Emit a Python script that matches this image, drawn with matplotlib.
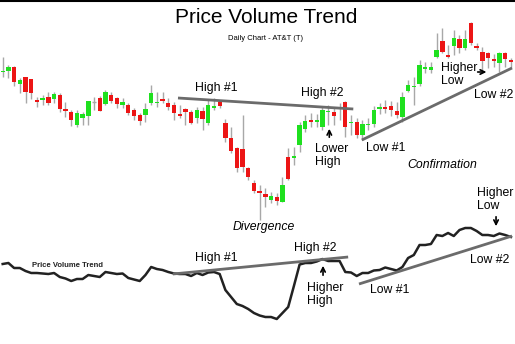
import numpy as np
import matplotlib
matplotlib.use('Agg')
import matplotlib.pyplot as plt

plt.rcParams['font.family'] = ['Liberation Sans', 'DejaVu Sans']

# daily candles, AT&T (T)
opens = [37.8, 37.9, 38.3, 36.6, 37.3, 37.1, 35.0, 35.0, 35.3, 35.1,
         35.5, 34.1, 33.8, 32.5, 33.2, 33.4, 34.8, 35.2, 34.6, 35.5,
         35.2, 34.5, 34.5, 34.0, 33.5, 33.5, 34.7, 34.7, 35.1, 34.7,
         34.5, 33.6, 34.1, 33.8, 33.2, 33.9, 32.7, 34.2, 34.8, 32.7,
         31.2, 30.2, 30.1, 28.2, 26.7, 25.9, 25.6, 25.0, 25.3, 24.8,
         29.3, 29.2, 30.5, 32.1, 33.0, 32.8, 32.3, 33.8, 33.8, 34.2,
         34.8, 32.7, 32.8, 31.5, 32.5, 32.6, 34.1, 34.3, 34.4, 33.9,
         33.3, 35.9, 36.3, 36.6, 38.1, 38.0, 39.3, 40.9, 39.5, 40.4,
         41.1, 40.2, 42.7, 40.4, 39.8, 39.7, 39.1, 38.7, 39.7, 39.0]
highs = [39.3, 38.5, 38.4, 37.2, 37.3, 37.1, 35.3, 35.5, 35.8, 35.8,
         35.7, 34.8, 34.0, 34.0, 33.8, 34.9, 35.3, 35.4, 36.0, 35.8,
         35.3, 35.2, 34.7, 34.2, 33.7, 34.7, 36.5, 35.8, 35.8, 35.2,
         34.8, 34.5, 34.2, 34.0, 34.3, 34.3, 35.0, 35.2, 35.0, 33.1,
         32.3, 30.3, 33.5, 28.3, 27.0, 26.5, 26.2, 25.8, 25.7, 27.3,
         30.2, 30.3, 32.8, 33.5, 33.7, 33.6, 34.3, 34.5, 34.2, 34.7,
         34.9, 33.5, 33.2, 33.0, 33.2, 34.4, 34.7, 35.0, 34.9, 34.8,
         35.8, 37.0, 37.3, 39.0, 38.8, 38.8, 41.7, 42.2, 40.5, 42.0,
         41.5, 42.0, 42.8, 40.7, 40.3, 39.8, 39.6, 39.8, 39.8, 39.2]
lows = [37.3, 37.2, 36.4, 35.7, 34.7, 35.1, 34.3, 34.5, 34.5, 34.7,
        33.8, 33.3, 32.4, 32.3, 32.5, 32.5, 34.0, 33.9, 34.5, 34.7,
        34.2, 34.2, 33.5, 33.0, 32.5, 32.8, 34.5, 34.3, 34.7, 34.0,
        33.0, 33.2, 32.5, 32.6, 32.7, 32.0, 32.5, 34.0, 34.2, 30.8,
        29.7, 27.8, 27.8, 27.0, 25.7, 23.0, 24.3, 24.7, 24.5, 24.8,
        27.0, 28.5, 29.8, 31.8, 32.3, 32.3, 32.0, 32.5, 32.5, 33.0,
        31.3, 31.5, 31.2, 31.0, 32.0, 32.3, 33.6, 33.7, 33.4, 33.2,
        32.8, 35.8, 34.5, 36.4, 37.7, 37.7, 39.2, 39.7, 39.2, 39.5,
        39.7, 40.0, 40.5, 40.0, 38.0, 38.2, 38.3, 37.8, 38.3, 38.2]
closes = [37.9, 38.3, 36.8, 37.0, 35.8, 35.7, 34.8, 35.2, 34.7, 35.6,
          34.1, 33.9, 33.0, 33.7, 33.6, 34.9, 34.8, 33.9, 35.8, 34.9,
          34.6, 34.8, 33.7, 33.4, 32.9, 34.1, 35.7, 34.8, 34.9, 34.3,
          33.7, 33.4, 33.8, 32.7, 34.0, 33.1, 34.5, 34.4, 34.4, 31.2,
          29.9, 28.2, 28.3, 27.3, 25.9, 25.7, 25.3, 25.4, 24.9, 26.5,
          27.1, 29.4, 32.5, 32.9, 32.8, 33.0, 34.0, 33.9, 33.4, 34.3,
          32.3, 32.8, 31.5, 32.6, 32.6, 34.0, 34.3, 34.1, 34.0, 33.5,
          35.3, 36.5, 36.4, 38.5, 38.3, 38.3, 40.0, 39.8, 39.3, 41.2,
          40.2, 41.1, 40.7, 40.2, 38.9, 39.2, 38.9, 39.7, 39.1, 38.8]

# price volume trend, one value per day
pvt = [66, 67, 62, 62, 59, 57, 57, 56.5, 56, 57,
       53, 51.5, 49, 51, 51, 55, 54, 53, 58, 57,
       56, 56.5, 52, 50.5, 49, 55, 63, 61, 60, 58,
       56.5, 56, 56, 54, 57, 55, 57.5, 58, 56, 40,
       33, 26, 24, 21, 17, 14.5, 13, 13, 11, 17,
       23, 44, 65.5, 67, 67, 68.5, 71, 69, 69, 69,
       58, 57.5, 54, 57, 57, 59.5, 60, 62.5, 61, 59.5,
       63, 72, 75, 85, 85, 86, 95, 94, 97, 94,
       100, 102, 102, 99, 95, 95, 94, 96.5, 95, 93]

# trend lines: (day, value) end points
price_high_line = ([30.7, 61.4], [35.2, 34.1])
price_low_line = ([62.9, 89.2], [31.0, 38.2])
pvt_high_line = ([29.8, 60.5], [56, 73])
pvt_low_line = ([62.4, 89.2], [46, 94])

days = np.arange(len(opens))
o = np.array(opens)
c = np.array(closes)

fig = plt.figure(figsize=(5.15, 3.44), dpi=100)
fig.patch.set_facecolor('white')
ax = fig.add_axes([0, 0, 1, 1])
ax2 = fig.add_axes([0, 0, 1, 1])
ax2.patch.set_alpha(0)
for a in (ax, ax2):
    a.set_xlim(-0.47, 89.72)
    a.axis('off')
ax.set_ylim(10.6, 45)
ax2.set_ylim(-14, 330)

green = '#1fe01f'
red = '#ec1515'

# wicks
ax.vlines(days, lows, highs, color='#a8a8a8', lw=1, zorder=1)
# bodies
up = c > o
down = c < o
flat = c == o
ax.bar(days[up], (c - o)[up], bottom=o[up], width=0.76, color=green, zorder=2)
ax.bar(days[down], (o - c)[down], bottom=c[down], width=0.76, color=red, zorder=2)
ax.hlines(o[flat], days[flat] - 0.38, days[flat] + 0.38, color='#a8a8a8', lw=1, zorder=2)

tl = dict(color='#6b6b6b', lw=2, solid_capstyle='butt', zorder=3)
ax.plot(*price_high_line, **tl)
ax.plot(*price_low_line, **tl)

ax2.plot(days, pvt, color='#222222', lw=1.8, zorder=2)
ax2.plot(*pvt_high_line, **tl)
ax2.plot(*pvt_low_line, **tl)

# titles
fig.text(0.516, 0.948, 'Price Volume Trend', ha='center', va='center', fontsize=15)
fig.text(0.516, 0.887, 'Daily Chart - AT&T (T)', ha='center', va='center', fontsize=5.5)
fig.add_artist(plt.Line2D([0, 1], [0.998, 0.998], color='black', lw=1.5))

fs = 8.8
arr = dict(arrowstyle='->', color='black', lw=1.2, mutation_scale=8)

# price panel notes
ax.text(37.4, 36.2, 'High #1', ha='center', va='center', fontsize=fs)
ax.text(55.9, 35.7, 'High #2', ha='center', va='center', fontsize=fs)
ax.text(54.7, 30.7, 'Lower\nHigh', ha='left', va='top', fontsize=fs, linespacing=1.1)
ax.annotate('', xy=(57.2, 32.4), xytext=(57.2, 31.0), arrowprops=arr)
ax.text(67.1, 30.2, 'Low #1', ha='center', va='center', fontsize=fs)
ax.text(76.9, 28.5, 'Confirmation', ha='center', va='center', fontsize=fs, style='italic')
ax.text(45.8, 22.3, 'Divergence', ha='center', va='center', fontsize=fs, style='italic')
ax.text(76.8, 38.8, 'Higher\nLow', ha='left', va='top', fontsize=fs, linespacing=1.1)
ax.annotate('', xy=(85.2, 37.8), xytext=(82.7, 37.8), arrowprops=arr)
ax.text(86.0, 35.5, 'Low #2', ha='center', va='center', fontsize=fs)

# PVT panel notes
ax2.text(11.3, 64.5, 'Price Volume Trend', ha='center', va='center', fontsize=5.5,
         fontweight='bold', color='#222222')
ax2.text(37.4, 72, 'High #1', ha='center', va='center', fontsize=fs)
ax2.text(54.7, 82, 'High #2', ha='center', va='center', fontsize=fs)
ax2.text(53.3, 48, 'Higher\nHigh', ha='left', va='top', fontsize=fs, linespacing=1.1)
ax2.annotate('', xy=(56.1, 67), xytext=(56.1, 52), arrowprops=arr)
ax2.text(67.8, 40, 'Low #1', ha='center', va='center', fontsize=fs)
ax2.text(85.3, 70, 'Low #2', ha='center', va='center', fontsize=fs)
ax2.text(83.1, 143, 'Higher\nLow', ha='left', va='top', fontsize=fs, linespacing=1.1)
ax2.annotate('', xy=(86.4, 101), xytext=(86.4, 116), arrowprops=arr)

fig.savefig('out.png', dpi=100)
